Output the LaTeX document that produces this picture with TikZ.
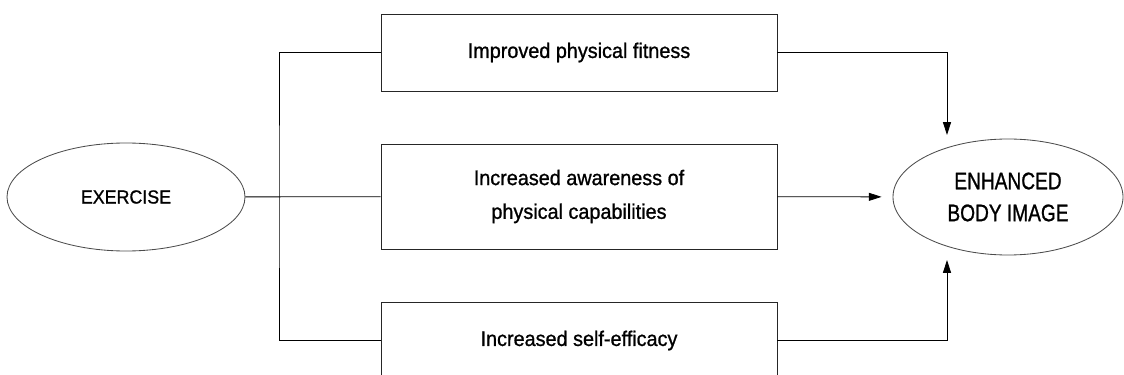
\documentclass[tikz,border=0pt]{standalone}
\usepackage{fontspec}
\setmainfont{Liberation Sans}[FakeStretch=0.94,FakeBold=1]
\newfontfamily\narrowfont{Liberation Sans}[FakeStretch=0.8,FakeBold=1]
\usetikzlibrary{positioning}
\usetikzlibrary{shapes.geometric}
\usetikzlibrary{arrows.meta}

\begin{document}
\begin{tikzpicture}[x=0.25mm,y=-0.25mm,semithick,node distance=3.6cm,
  >={Triangle[length=3.2mm,width=2mm]},
  factor/.style={draw=black!85,rectangle,minimum width=99mm,minimum height=19.25mm,
    align=center,font=\fontsize{15}{24}\selectfont},
  oval/.style={draw=black!70,ellipse,align=center,inner sep=0pt}]
\useasboundingbox (0,0) rectangle (1124,375);
% the three boxes in the middle
\node[factor,minimum height=26.25mm] (aware) at (579,196.5) {Increased awareness of\\physical capabilities};
\node[factor] (fitness) [above of=aware] {Improved physical fitness};
\node[factor] (efficacy) [below of=aware] {Increased self-efficacy};
% the two ovals
\node[oval,minimum width=59.5mm,minimum height=27mm,font=\fontsize{13.5}{16}\selectfont] (exercise) at (126,197) {EXERCISE};
\node[oval,minimum width=57.5mm,minimum height=29mm,font=\narrowfont\fontsize{17}{22.7}\selectfont] (body) at (1008,197) {ENHANCED\\BODY IMAGE};
\coordinate (fork) at (279,197);
\coordinate (top in) at (947,135);
\coordinate (bottom in) at (947,260);
\draw (exercise) -- (aware);
\draw (fitness) -| (fork) |- (efficacy);
\draw[->] (fitness) -| (top in);
\draw[->,shorten >=2.75mm] (aware) -- (body);
\draw[->] (efficacy) -| (bottom in);
\end{tikzpicture}
\end{document}
